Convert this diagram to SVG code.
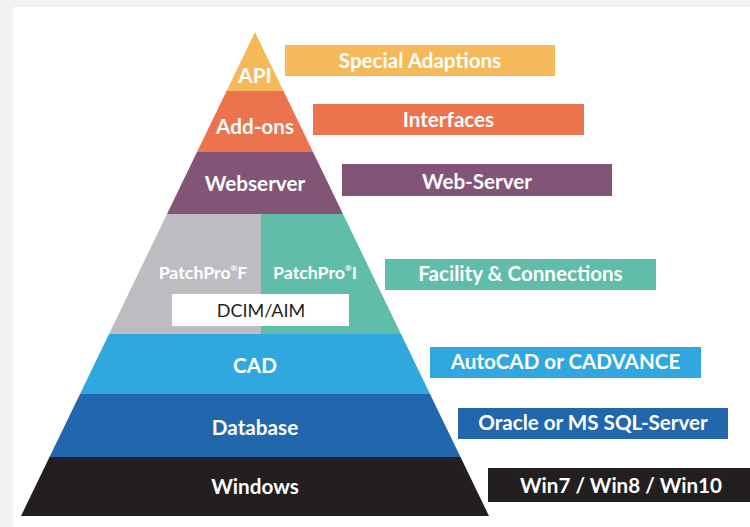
<svg xmlns="http://www.w3.org/2000/svg" width="750" height="527" viewBox="0 0 750 527">
<style>
.t{font-family:Lato,"Open Sans","Liberation Sans",sans-serif;font-weight:700;fill:#fff;text-anchor:middle}
.p{font-size:20.7px}
.r{font-size:20.6px}
.s{font-size:17.8px}
.d{font-family:Lato,"Open Sans","Liberation Sans",sans-serif;font-weight:400;fill:#231f20;font-size:18px;text-anchor:middle}
</style>
<rect x="0" y="0" width="750" height="527" fill="#f1f2f2"/>
<rect x="13" y="7" width="737" height="520" fill="#ffffff"/>
<g id="pyramid">
<g id="api"><polygon points="255,32 283.5,91 226.5,91" fill="#f6b95a"/><text class="t p" x="255" y="83">API</text></g>
<g id="addons"><polygon points="226.5,91 283.5,91 313,152 197,152" fill="#eb734d"/><text class="t p" x="255" y="134">Add-ons</text></g>
<g id="webserver"><polygon points="197,152 313,152 343,214 167,214" fill="#825577"/><text class="t p" x="255" y="191">Webserver</text></g>
<g id="patchpro-f"><polygon points="167,214 261,214 261,334 109,334" fill="#bdbdc1"/><text class="t s" x="203" y="279">PatchPro<tspan font-size="8" dy="-8">®</tspan><tspan dy="8">F</tspan></text></g>
<g id="patchpro-i"><polygon points="261,214 343,214 401,334 261,334" fill="#5fbdaa"/><text class="t s" x="315" y="279">PatchPro<tspan font-size="8" dy="-8">®</tspan><tspan dy="8">I</tspan></text></g>
<g id="dcim"><rect x="172" y="294" width="177" height="32" fill="#ffffff"/><text class="d" x="261" y="317">DCIM/AIM</text></g>
<g id="cad"><polygon points="109,334 401,334 430,394 80,394" fill="#30a8df"/><text class="t p" x="255" y="373">CAD</text></g>
<g id="database"><polygon points="80,394 430,394 460.5,457 49.5,457" fill="#2267ad"/><text class="t p" x="255" y="435">Database</text></g>
<g id="windows"><polygon points="49.5,457 460.5,457 489,516 21,516" fill="#231f20"/><text class="t p" x="255" y="494">Windows</text></g>
</g>
<g id="labels">
<g id="special"><rect x="285" y="45" width="270" height="31" fill="#f6b95a"/><text class="t r" x="420" y="68">Special Adaptions</text></g>
<g id="interfaces"><rect x="313" y="104" width="271" height="31" fill="#eb734d"/><text class="t r" x="448.5" y="127">Interfaces</text></g>
<g id="web-server"><rect x="342" y="164" width="270" height="32" fill="#825577"/><text class="t r" x="477" y="189">Web-Server</text></g>
<g id="facility"><rect x="385" y="259" width="271" height="31" fill="#5fbdaa"/><text class="t r" x="520.5" y="281">Facility &amp; Connections</text></g>
<g id="autocad"><rect x="430" y="347" width="271" height="31" fill="#30a8df"/><text class="t r" x="565.5" y="369">AutoCAD or CADVANCE</text></g>
<g id="oracle"><rect x="458" y="408" width="270" height="31" fill="#2267ad"/><text class="t r" x="593" y="430">Oracle or MS SQL-Server</text></g>
<g id="win"><rect x="488" y="468" width="262" height="34" fill="#231f20"/><text class="t r" x="621" y="493">Win7 / Win8 / Win10</text></g>
</g>
<g id="connectors"/>
</svg>
